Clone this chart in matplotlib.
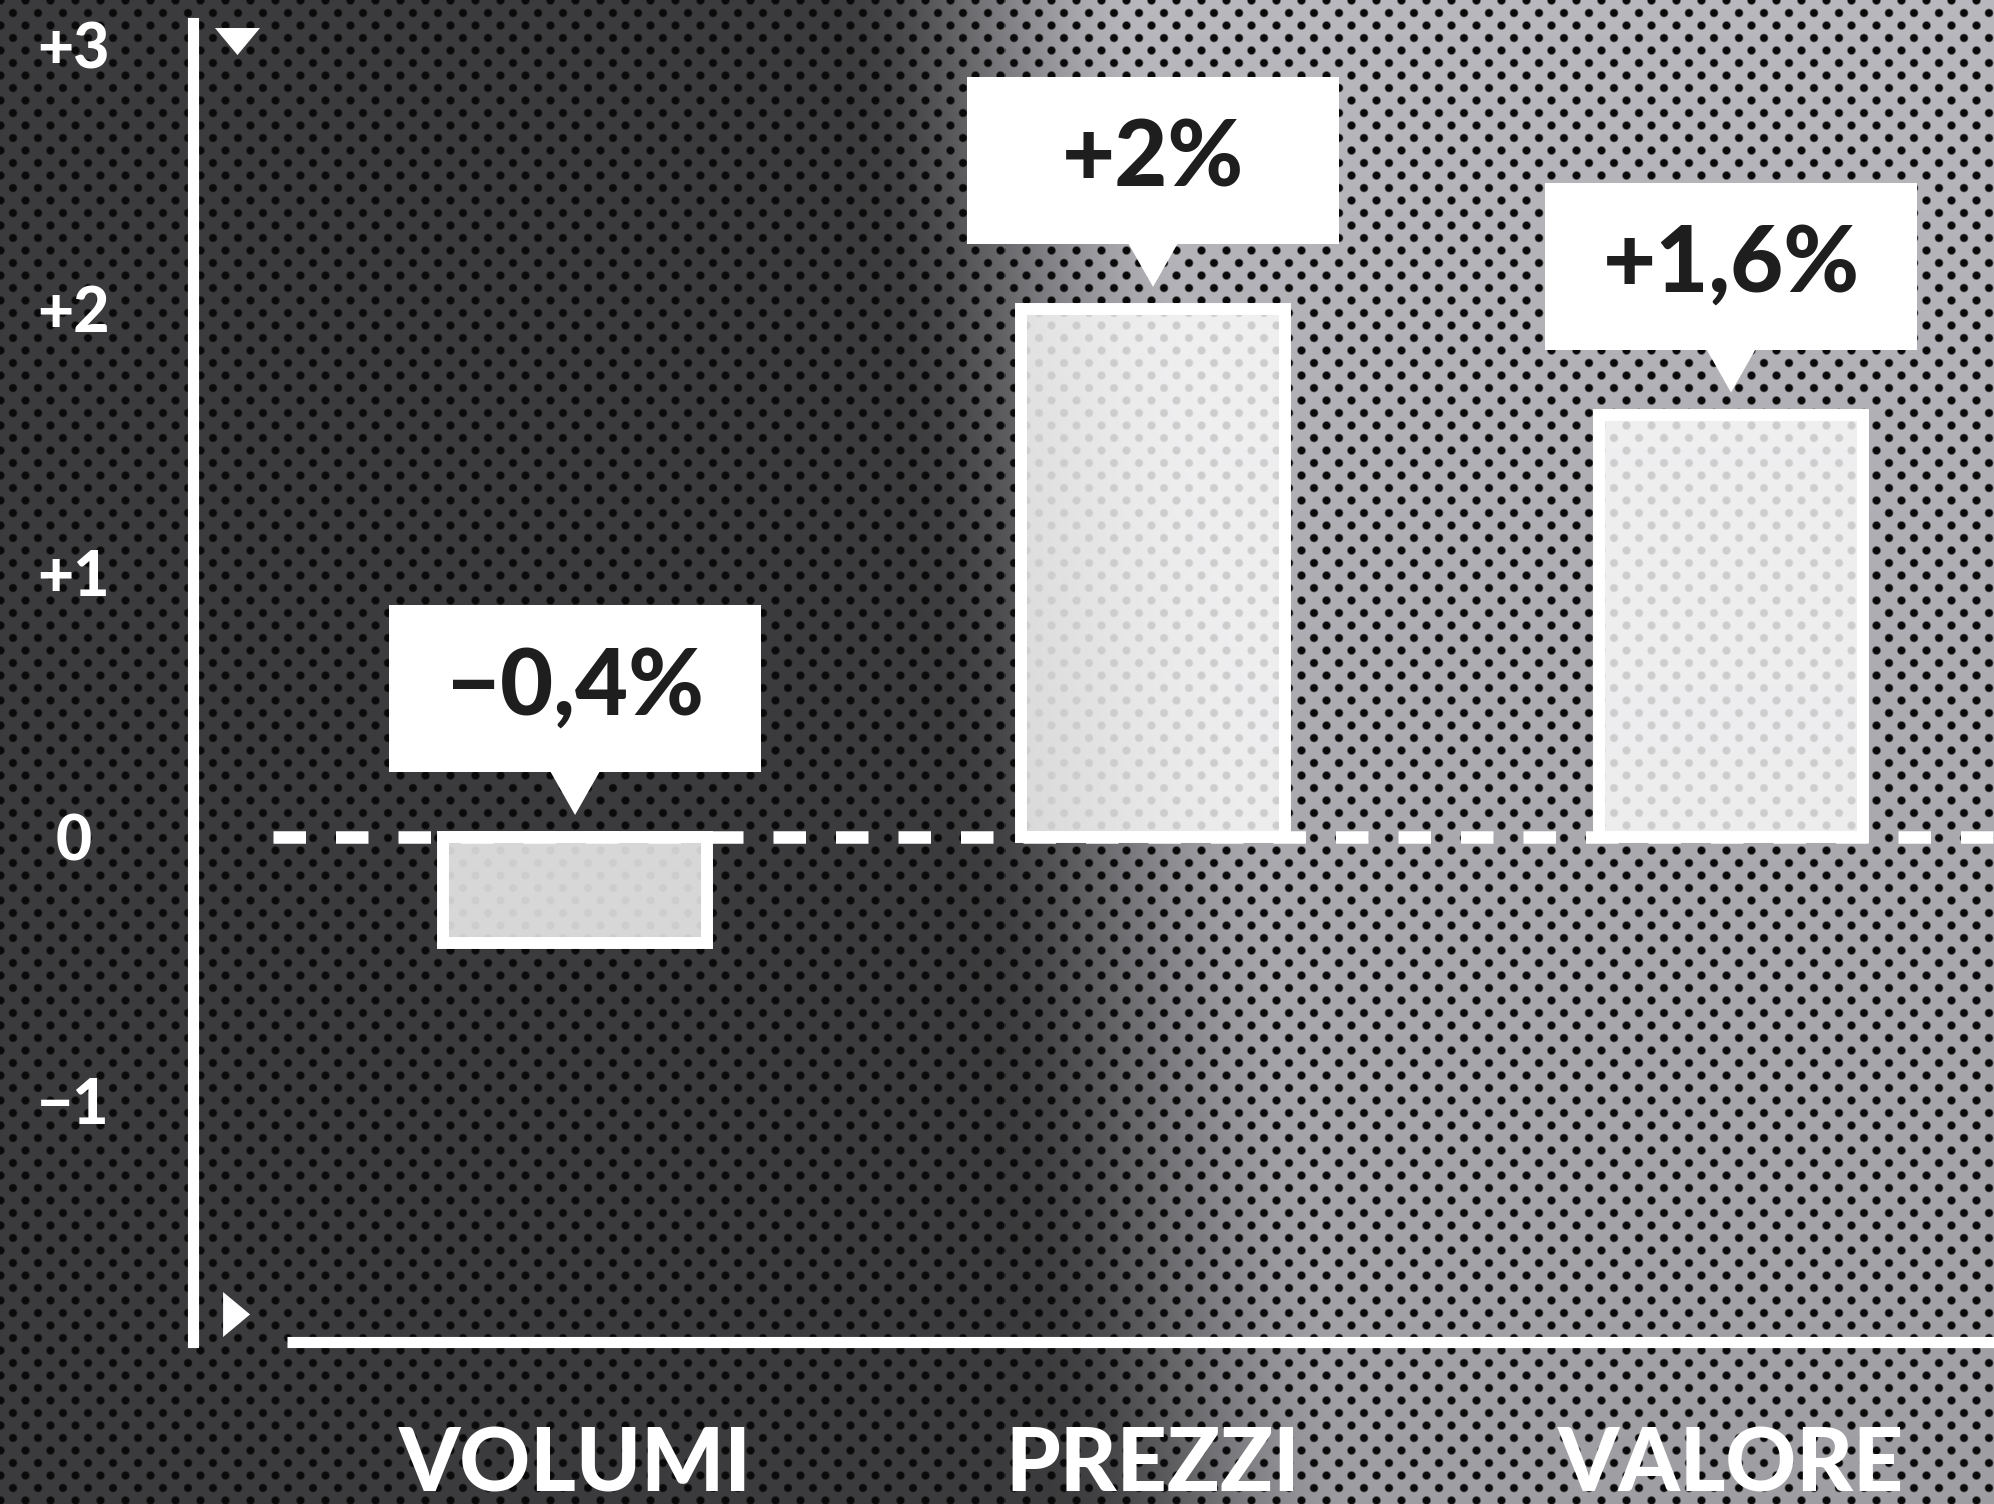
import numpy as np
import matplotlib.pyplot as plt
from matplotlib import transforms
from matplotlib.patches import Rectangle, Polygon

# dati
categorie = ["VOLUMI", "PREZZI", "VALORE"]
variazioni = [-0.4, 2.0, 1.6]
etichette = ["−0,4%", "+2%", "+1,6%"]
tick_valori = [-1, 0, 1, 2, 3]
tick_etichette = ["−1", "0", "+1", "+2", "+3"]

W, H, DPI = 1994, 1504, 100
FONT = "Lato"

# --- sfondo: sfumatura grigia con trama a puntini ---
yy, xx = np.mgrid[0:H, 0:W].astype(float)
x0 = 830 + 220 * yy / H
t = np.clip((xx - x0) / 320, 0, 1)
t = t * t * (3 - 2 * t)
chiaro = 0.62 + 0.1 * (1 - yy / H)
base = 0.235 + (chiaro - 0.235) * t
u = (xx + yy) / 25.0
v = (xx - yy) / 25.0
d = np.hypot(u - np.round(u), v - np.round(v)) * 25 / np.sqrt(2)
punto = np.clip((4.8 - d) / 1.6, 0, 1)
g = base * (1 - punto) + 0.04 * punto
sfondo = np.dstack([g, g, np.clip(g * 1.03, 0, 1)])

fig = plt.figure(figsize=(W / DPI, H / DPI), dpi=DPI)
bg = fig.add_axes([0, 0, 1, 1], zorder=0)
bg.imshow(sfondo, aspect="auto", interpolation="nearest")
bg.axis("off")

# --- assi principali ---
ax = fig.add_axes([193 / W, (H - 1342) / H, (W - 193) / W, (1342 - 23) / H], zorder=1)
ax.patch.set_alpha(0)
ax.set_xlim(-0.661, 2.455)
ax.set_ylim(-1.913, 3.083)

for s in ["top", "right", "bottom"]:
    ax.spines[s].set_visible(False)
ax.spines["left"].set_color("white")
ax.spines["left"].set_linewidth(8)

x = np.arange(len(categorie))
ax.set_yticks(tick_valori)
ax.set_yticklabels(tick_etichette, family=FONT, weight="black", fontsize=45,
                   color="white", ha="center")
ax.tick_params(axis="y", length=0, pad=86)
ax.set_xticks(x)
ax.set_xticklabels(categorie, family=FONT, weight="black", fontsize=63, color="white")
ax.tick_params(axis="x", length=0, pad=60)

# linea dello zero tratteggiata
ax.axhline(0, xmin=0.0444, color="white", lw=9, dashes=(2.6, 2.4),
           dash_capstyle="butt", zorder=2)

# barre
ax.bar(x, variazioni, width=0.458, color=(1, 1, 1, 0.8), edgecolor="white",
       linewidth=8.6, zorder=3)

# linea di base e frecce
ax.plot([0.0522, 1], [0, 0], transform=ax.transAxes, color="white", lw=8,
        solid_capstyle="butt", clip_on=False)
ax.add_patch(Polygon([[0.0122, 0.9962], [0.0372, 0.9962], [0.0247, 0.9757]],
                     closed=True, transform=ax.transAxes, fc="white", ec="none",
                     clip_on=False))
ax.add_patch(Polygon([[0.0167, 0.0379], [0.0167, 0.0038], [0.0317, 0.0209]],
                     closed=True, transform=ax.transAxes, fc="white", ec="none",
                     clip_on=False))

# fumetti con le etichette
for xi, val, lab in zip(x, variazioni, etichette):
    ancora = max(val, 0)
    tr = fig.dpi_scale_trans + transforms.ScaledTranslation(xi, ancora, ax.transData)
    ax.add_patch(Rectangle((-1.86, 0.65), 3.72, 1.67, transform=tr, fc="white",
                           ec="none", clip_on=False, zorder=4))
    ax.add_patch(Polygon([[-0.25, 0.66], [0.25, 0.66], [0, 0.22]], closed=True,
                         transform=tr, fc="white", ec="none", clip_on=False, zorder=4))
    ax.annotate(lab, xy=(xi, ancora), xytext=(0, (0.65 + 0.835) * 72),
                textcoords="offset points", ha="center", va="center",
                family=FONT, weight="black", fontsize=66, color="#1e1e1e", zorder=5)

fig.savefig("out.png", dpi=DPI)
